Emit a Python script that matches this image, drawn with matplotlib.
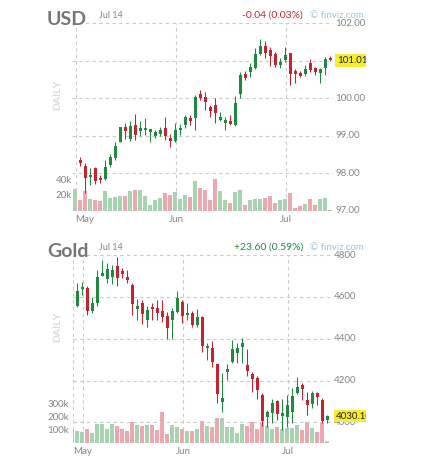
import numpy as np
import matplotlib.pyplot as plt
from matplotlib.patches import Rectangle

nan = np.nan

# USD daily candles (index 0 only has volume visible)
usd_open = [nan, 98.36, 98.20, 97.89, 98.13, 97.88, 97.84, 98.22, 98.40, 98.84,
            99.22, 98.92, 99.29, 99.13, 99.14, 99.10, 99.00, 99.05, 99.20, 98.93,
            98.87, 99.14, 99.29, 99.47, 99.47, 100.11, 100.04, 99.76, 99.82, 99.42,
            99.35, 99.40, 99.29, 100.12, 100.65, 100.71, 100.82, 101.18, 101.40, 101.29,
            101.18, 100.89, 101.02, 101.20, 100.74, 100.68, 100.64, 100.95, 100.80, 100.68,
            100.82, 101.07]
usd_high = [nan, 98.44, 98.27, 98.13, 98.16, 97.96, 98.36, 98.52, 98.82, 99.24,
            99.35, 99.38, 99.58, 99.38, 99.47, 99.19, 99.16, 99.22, 99.49, 99.05,
            99.35, 99.31, 99.56, 99.56, 100.10, 100.22, 100.18, 99.82, 100.00, 99.64,
            99.51, 99.56, 100.06, 100.71, 100.73, 100.93, 101.35, 101.58, 101.53, 101.38,
            101.24, 101.07, 101.36, 101.22, 100.77, 100.72, 100.89, 101.04, 100.84, 100.80,
            101.11, 101.12]
usd_low = [nan, 98.18, 97.48, 97.69, 97.72, 97.75, 97.82, 98.16, 98.36, 98.82,
           98.90, 98.87, 98.88, 98.98, 99.02, 98.84, 98.93, 98.98, 98.89, 98.71,
           98.84, 99.02, 99.20, 99.29, 99.15, 99.95, 99.69, 99.51, 99.35, 99.38,
           99.16, 99.29, 99.26, 100.00, 100.49, 100.58, 100.77, 101.16, 101.08, 100.86,
           100.84, 100.80, 100.98, 100.36, 100.40, 100.58, 100.60, 100.71, 100.62, 100.42,
           100.62, 101.00]
usd_close = [nan, 98.28, 97.88, 97.96, 97.78, 97.81, 98.16, 98.43, 98.73, 99.22,
             99.12, 99.27, 99.02, 99.20, 99.21, 99.17, 99.11, 99.15, 98.98, 98.85,
             99.15, 99.20, 99.51, 99.38, 100.04, 100.02, 99.91, 99.67, 99.60, 99.49,
             99.42, 99.32, 99.88, 100.62, 100.55, 100.83, 101.19, 101.40, 101.22, 101.13,
             100.89, 100.98, 101.16, 100.65, 100.65, 100.60, 100.77, 100.75, 100.71, 100.77,
             101.05, 101.01]
usd_volume = [28.9, 14.3, 26.3, 15.6, 14.3, 12.9, 26.3, 16.5, 17.8, 19.6,
              19.6, 26.3, 27.6, 27.6, 19.6, 7.6, 14.3, 16.5, 23.1, 20.9,
              24.9, 15.1, 20.9, 17.8, 39.6, 29.8, 27.6, 14.3, 42.2, 26.3,
              14.3, 9.8, 24.9, 27.6, 7.6, 14.3, 15.6, 15.6, 16.5, 19.6,
              9.8, 14.3, 15.6, 23.6, 4.0, 6.2, 8.9, 15.6, 7.6, 15.6,
              16.5, 1.0]  # thousands
usd_first_up = True
usd_months = [0, 20, 42]
usd_price_ticks = [102, 101, 100, 99, 98, 97]
usd_vol_ticks = [40, 20]

# Gold daily candles
gold_open = [nan, 4556, 4636, 4644, 4534, 4572, 4701, 4684, 4693, 4747,
             4723, 4693, 4657, 4543, 4572, 4489, 4553, 4545, 4534, 4508,
             4489, 4529, 4577, 4511, 4524, 4465, 4505, 4354, 4354, 4279,
             4099, 4242, 4290, 4333, 4359, 4274, 4231, 4213, 4131, 4024,
             4046, 4102, 4032, 4027, 4051, 4142, 4178, 4107, 4088, 4139,
             4107, 4011]
gold_high = [nan, 4665, 4672, 4652, 4601, 4728, 4776, 4760, 4752, 4789,
             4736, 4728, 4665, 4588, 4585, 4556, 4569, 4585, 4585, 4529,
             4545, 4629, 4585, 4569, 4534, 4540, 4508, 4381, 4390, 4282,
             4237, 4277, 4394, 4378, 4402, 4349, 4242, 4221, 4139, 4059,
             4110, 4107, 4110, 4131, 4162, 4218, 4189, 4147, 4152, 4147,
             4115, 4035]
gold_low = [nan, 4550, 4609, 4513, 4524, 4556, 4700, 4668, 4660, 4652,
            4688, 4664, 4513, 4489, 4470, 4457, 4489, 4489, 4481, 4397,
            4397, 4524, 4473, 4489, 4457, 4454, 4338, 4297, 4263, 4094,
            4051, 4202, 4285, 4285, 4282, 4221, 4146, 4110, 3982, 3979,
            3998, 4011, 3963, 3979, 3998, 4136, 4107, 4035, 4067, 4083,
            3995, 3995]
gold_close = [nan, 4628, 4649, 4534, 4572, 4693, 4712, 4731, 4728, 4688,
              4709, 4680, 4564, 4556, 4516, 4537, 4540, 4524, 4505, 4449,
              4532, 4593, 4510, 4524, 4465, 4505, 4365, 4366, 4290, 4135,
              4115, 4254, 4349, 4354, 4381, 4247, 4205, 4154, 4008, 4048,
              4094, 4040, 4046, 4083, 4126, 4170, 4158, 4083, 4139, 4120,
              4006.5, 4030.1]
gold_volume = [115, 95, 90, 110, 77, 149, 149, 110, 146, 136,
               110, 95, 162, 141, 133, 141, 141, 103, 238, 72,
               141, 128, 110, 97, 97, 110, 172, 133, 123, 197,
               197, 128, 128, 82, 149, 133, 164, 110, 162, 136,
               110, 123, 108, 120, 118, 141, 103, 164, 120, 90,
               154, 20]  # thousands
gold_first_up = False
gold_months = [2, 22, 43]
gold_price_ticks = [4800, 4600, 4400, 4200, 4000]
gold_vol_ticks = [300, 200, 100]

month_labels = ['May', 'Jun', 'Jul']

UP, DOWN = '#1f8a3d', '#c4232f'
UP_VOL, DOWN_VOL = '#a6d4b1', '#eca8ae'
GRID = '#c9c9c9'
TXT = '#858585'
FONT = 'Lato'

W, H = 432, 475
fig = plt.figure(figsize=(W / 100, H / 100), dpi=100)
plt.rcParams['font.family'] = [FONT, 'DejaVu Sans']


def panel(rect_px, xlim, ylim, vmax, o, h, l, c, vol, first_up, months,
          pticks, pfmt, vticks, vlab_x, name, title_y, change, change_col,
          edge_line=False):
    x0, y0, x1, y1 = rect_px
    ax = fig.add_axes([x0 / W, 1 - y1 / H, (x1 - x0) / W, (y1 - y0) / H])
    vax = ax.twinx()
    ax.set_zorder(vax.get_zorder() + 1)
    ax.patch.set_visible(False)
    for a in (ax, vax):
        a.set_xlim(*xlim)
        for s in a.spines.values():
            s.set_visible(False)
        a.set_xticks([])
        a.set_yticks([])
    ax.set_ylim(*ylim)
    vax.set_ylim(0, vmax)

    o, h, l, c = map(np.array, (o, h, l, c))
    idx = np.arange(len(vol))
    up = np.where(np.isnan(o), first_up, c >= o)
    per_px = (ylim[1] - ylim[0]) / (y1 - y0)

    # grid
    for p in pticks:
        ax.axhline(p, color=GRID, lw=0.8, ls=(0, (3, 3)), zorder=0)
    for m in months:
        ax.axvline(m + 0.15, color=GRID, lw=0.8, ls=(0, (3, 3)), zorder=0)
    if edge_line:
        ax.axvline(xlim[0], color=GRID, lw=0.8, ls=(0, (3, 3)), zorder=0)

    # volume
    vax.bar(idx, np.array(vol) * 1000, width=0.78,
            color=np.where(up, UP_VOL, DOWN_VOL), zorder=1)

    # candles
    ok = ~np.isnan(o)
    cols = np.where(up, UP, DOWN)[ok]
    min_h = per_px * 1.6
    ax.vlines(idx[ok], l[ok], h[ok], colors=cols, lw=0.75, zorder=2)
    body = np.maximum(np.abs(c - o), min_h)[ok]
    ax.bar(idx[ok], body, bottom=np.minimum(o, c)[ok] - (body - np.abs(c - o)[ok]) / 2,
           width=0.66, color=cols, zorder=3)

    # price labels (the last-price tag hides a label sitting right under it)
    ytr = ax.get_yaxis_transform()
    last = c[-1]
    for p in pticks:
        if abs(p - last) < 3 * per_px:
            continue
        ax.text(1.008, p, pfmt(p), transform=ytr, ha='left', va='center',
                fontsize=7, color=TXT, clip_on=False)
    ax.text(1.015, last, f'{last:.2f}', transform=ytr, ha='left', va='center',
            fontsize=7, color='#222222', clip_on=False, zorder=5,
            bbox=dict(boxstyle='square,pad=0.18', fc='#f7ec2f', ec='none'))

    # volume labels
    vtr = vax.get_yaxis_transform()
    for v in vticks:
        vax.text(vlab_x, v * 1000, f'{v}k', transform=vtr, ha='right',
                 va='center', fontsize=7, color=TXT)

    # month labels
    xtr = ax.get_xaxis_transform()
    for m, lab in zip(months, month_labels):
        ha = 'left' if m - xlim[0] < 1.5 else 'center'
        xpos = xlim[0] + 0.7 if ha == 'left' else m + 0.15
        ax.text(xpos, -8.3 / (y1 - y0), lab, transform=xtr, ha=ha, va='center',
                fontsize=7, color=TXT)

    # header
    fig.text(47 / W, 1 - title_y / H, name, ha='left', va='center',
             fontsize=14, fontweight='bold', color='#767676')
    fig.text(99 / W, 1 - (title_y - 4.5) / H, 'Jul 14', ha='left',
             va='center', fontsize=6.5, color=TXT)
    fig.text(303 / W, 1 - (title_y - 4.5) / H, change, ha='right',
             va='center', fontsize=7.5, color=change_col)
    fig.text(310 / W, 1 - (title_y - 4.5) / H, '\u00a9 finviz.com', ha='left',
             va='center', fontsize=7, color='#9dc4df')
    fig.text(58 / W, 1 - (y0 + 0.38 * (y1 - y0)) / H, 'DAILY', ha='center',
             va='center', rotation=90, fontsize=7.5, fontweight='bold',
             color='#d9d9d9')
    return ax


panel((72, 23.3, 333, 210.7), (-0.66, 51.54), (97, 102), 250000,
      usd_open, usd_high, usd_low, usd_close, usd_volume, usd_first_up,
      usd_months, usd_price_ticks, lambda p: f'{p:.2f}', usd_vol_ticks, -0.002,
      'USD', 19.7, '-0.04 (0.03%)', '#c4232f')

panel((73.3, 255, 332, 443.3), (0.2, 51.94), (3900, 4800), 1448000,
      gold_open, gold_high, gold_low, gold_close, gold_volume, gold_first_up,
      gold_months, gold_price_ticks, lambda p: f'{p}', gold_vol_ticks, -0.016,
      'Gold', 251.5, '+23.60 (0.59%)', '#1f8a3d', edge_line=True)

# chart images are 365 px wide; blank the rest
fig.patches.append(Rectangle((366 / W, 0), 1, 1, transform=fig.transFigure,
                             facecolor='white', edgecolor='none', zorder=20))

fig.savefig('out.png', dpi=100)
